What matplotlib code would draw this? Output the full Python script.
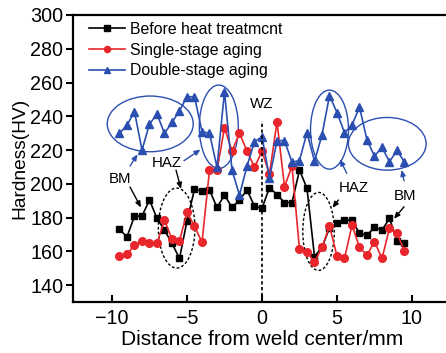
import matplotlib
matplotlib.use("Agg")
import matplotlib.pyplot as plt
from matplotlib.patches import Ellipse
import numpy as np

plt.rcParams['font.family'] = ['Liberation Sans', 'DejaVu Sans']

x = [-9.5, -9.0, -8.5, -8.0, -7.5, -7.0, -6.5, -6.0, -5.5, -5.0, -4.5, -4.0, -3.5, -3.0, -2.5, -2.0, -1.5, -1.0, -0.5, 0.0,
     0.5, 1.0, 1.5, 2.0, 2.5, 3.0, 3.5, 4.0, 4.5, 5.0, 5.5, 6.0, 6.5, 7.0, 7.5, 8.0, 8.5, 9.0, 9.5]

before = [173.0, 168.6, 180.9, 180.9, 190.4, 179.5, 172.6, 164.7, 155.8, 178.1, 196.7, 195.9, 196.3, 186.0, 193.3, 186.0, 190.4, 196.3, 186.8, 185.5,
          197.8, 193.6, 188.9, 188.9, 208.1, 197.3, 156.9, 162.5, 173.8, 176.6, 178.4, 178.5, 170.6, 169.6, 174.2, 172.6, 179.5, 166.3, 165.1]

single = [157.4, 158.2, 163.7, 166.3, 165.1, 164.7, 178.5, 167.1, 166.3, 183.1, 175.0, 165.3, 208.1, 208.1, 233.2, 219.4, 229.9, 219.4, 209.8, 219.2,
          205.8, 236.8, 198.3, 210.5, 161.1, 159.6, 153.6, 162.3, 175.0, 157.2, 155.8, 175.6, 162.3, 157.8, 165.7, 155.8, 173.6, 170.6, 160.3]

double = [229.9, 234.8, 242.7, 220.0, 235.4, 241.3, 229.9, 236.4, 243.3, 251.6, 251.6, 230.9, 229.9, 209.8, 254.6, 208.1, 193.3, 210.5, 224.9, 227.9,
          203.5, 225.6, 225.6, 212.8, 213.8, 230.4, 213.4, 228.9, 252.3, 242.2, 230.3, 234.8, 245.5, 225.9, 216.4, 221.7, 213.1, 219.8, 212.8]

labels = ["Before heat treatmcnt", "Single-stage aging", "Double-stage aging"]
xticks = [-10, -5, 0, 5, 10]
yticks = [140, 160, 180, 200, 220, 240, 260, 280, 300]

BLACK = '#000000'
RED = '#e8262b'
BLUE = '#2b4fb0'

fig = plt.figure(figsize=(4.46, 3.53), dpi=100)
ax = fig.add_axes([73/446, 51/353, 378/446, 287/353])

ax.plot(x, before, color=BLACK, marker='s', ms=5, lw=1.2, label=labels[0])
ax.plot(x, single, color=RED, marker='o', ms=5.5, lw=1.2, label=labels[1])
ax.plot(x, double, color=BLUE, marker='^', ms=6, lw=1.2, label=labels[2])

ax.set_xlim(-12.6, 12.6)
ax.set_ylim(130, 300)
ax.set_xticks(xticks)
ax.set_yticks(yticks)
ax.set_xticklabels(['\u221210', '\u22125', '0', '5', '10'])
ax.tick_params(axis='x', direction='in', length=5, width=1.5, labelsize=14.2, pad=5)
ax.tick_params(axis='y', direction='out', length=5, width=1.5, labelsize=14.2, pad=2)
for s in ax.spines.values():
    s.set_linewidth(1.6)

ax.set_xlabel("Distance from weld center/mm", fontsize=15, labelpad=1.5)
ax.set_ylabel("Hardness(HV)", fontsize=13.8, labelpad=1)

# weld center dashed line
ax.plot([0, 0], [130, 237], color=BLACK, ls=(0, (2, 1.5)), lw=1.2)

# blue ellipses
for (cx, cy, w, h) in [(-7.45, 235.5, 5.73, 33.0), (-2.88, 233.8, 2.6, 49.4),
                       (4.5, 232.1, 2.53, 46.8), (8.35, 223.7, 5.18, 31.2)]:
    ax.add_patch(Ellipse((cx, cy), w, h, fill=False, ec=BLUE, lw=1.0))
# dashed black ellipses
for (cx, cy, w, h) in [(-5.69, 173.8, 2.44, 47.4), (3.77, 171.8, 2.1, 46.2)]:
    ax.add_patch(Ellipse((cx, cy), w, h, fill=False, ec=BLACK, lw=1.0, ls=(0, (2, 1.5))))

tfs = 10.8
ax.text(0, 247, "WZ", fontsize=tfs, ha='center', va='center')
ax.text(-9.47, 202.7, "BM", fontsize=tfs, ha='center', va='center')
ax.text(-6.35, 212.5, "HAZ", fontsize=tfs, ha='center', va='center')
ax.text(6.09, 197.3, "HAZ", fontsize=tfs, ha='center', va='center')
ax.text(9.53, 192.7, "BM", fontsize=tfs, ha='center', va='center')

def arrow(x0, y0, x1, y1, c):
    ax.annotate("", xy=(x1, y1), xytext=(x0, y0),
                arrowprops=dict(arrowstyle='-|>,head_length=0.35,head_width=0.15', color=c, lw=1.0,
                                shrinkA=0, shrinkB=0))

arrow(-8.8, 210.5, -8.3, 217.5, BLUE)
arrow(-8.8, 198.1, -8.07, 186.0, BLACK)
arrow(-5.73, 208.1, -5.4, 197.0, BLACK)
arrow(-5.2, 213.7, -4.1, 220.3, BLUE)
arrow(5.65, 206.2, 5.2, 214.5, BLUE)
arrow(5.09, 190.4, 4.7, 185.8, BLACK)
arrow(9.47, 201.8, 9.31, 208.3, BLUE)
arrow(9.47, 186.4, 8.8, 179.3, BLACK)

ax.legend(loc='upper left', bbox_to_anchor=(89/446, 1 - 22/353), bbox_transform=fig.transFigure,
          frameon=False, fontsize=11.4, handlelength=2.3, handletextpad=0.3, borderpad=0,
          borderaxespad=0, labelspacing=0.35, markerscale=0.8)

fig.savefig("out.png", dpi=100)
